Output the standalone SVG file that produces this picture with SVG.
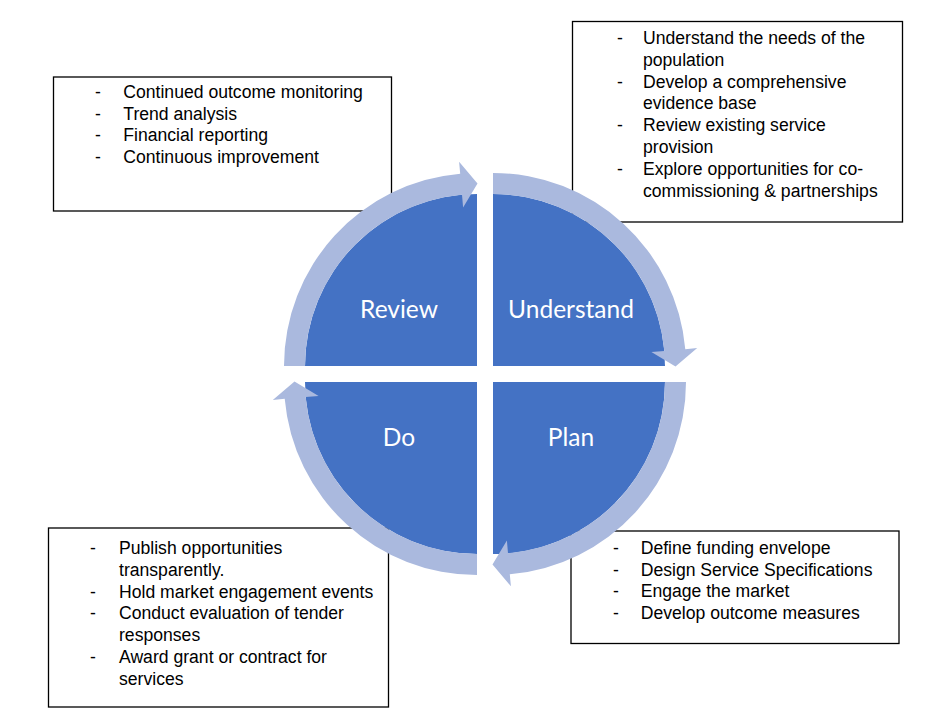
<svg xmlns="http://www.w3.org/2000/svg" xmlns:xlink="http://www.w3.org/1999/xlink" width="927" height="725" viewBox="0 0 927 725">
<style>
.box{fill:#ffffff;stroke:#000000;stroke-width:1.3}
.bt{font-family:"Liberation Sans",Arial,sans-serif;font-size:17.6px;fill:#000000}
.quad{fill:#4472C4}
.ring{fill:#AAB9DE}
.ql{font-family:Lato,"Open Sans",sans-serif;font-size:24.5px;fill:#ffffff;text-anchor:middle}
</style>
<defs>
<path id="quadShape" d="M 477 366 L 305 366 A 172 172 0 0 1 477 194 Z"/>
<path id="ringShape" d="M 284 366 A 193 193 0 0 1 460.2 173.7 L 459.1 161.8 L 477.5 183.5 L 463.1 207.6 L 462 194.7 A 172 172 0 0 0 305 366 Z"/>
</defs>
<rect width="927" height="725" fill="#ffffff"/>

<g id="box-review">
<rect class="box" x="53.5" y="77" width="338" height="134"/>
<g class="bt">
<text x="95" y="98">-</text><text x="123.3" y="98">Continued outcome monitoring</text>
<text x="95" y="119.7">-</text><text x="123.3" y="119.7">Trend analysis</text>
<text x="95" y="141.4">-</text><text x="123.3" y="141.4">Financial reporting</text>
<text x="95" y="163.1">-</text><text x="123.3" y="163.1">Continuous improvement</text>
</g>
</g>

<g id="box-understand">
<rect class="box" x="572.5" y="21.5" width="330" height="200.5"/>
<g class="bt">
<text x="617" y="44">-</text><text x="643" y="44">Understand the needs of the</text>
<text x="643" y="65.8">population</text>
<text x="617" y="87.6">-</text><text x="643" y="87.6">Develop a comprehensive</text>
<text x="643" y="109.4">evidence base</text>
<text x="617" y="131.2">-</text><text x="643" y="131.2">Review existing service</text>
<text x="643" y="153">provision</text>
<text x="617" y="174.8">-</text><text x="643" y="174.8">Explore opportunities for co-</text>
<text x="643" y="196.6">commissioning &amp; partnerships</text>
</g>
</g>

<g id="box-plan">
<rect class="box" x="571" y="531" width="328" height="112.5"/>
<g class="bt">
<text x="613" y="553.8">-</text><text x="640.7" y="553.8">Define funding envelope</text>
<text x="613" y="575.6">-</text><text x="640.7" y="575.6">Design Service Specifications</text>
<text x="613" y="597.4">-</text><text x="640.7" y="597.4">Engage the market</text>
<text x="613" y="619.2">-</text><text x="640.7" y="619.2">Develop outcome measures</text>
</g>
</g>

<g id="box-do">
<rect class="box" x="48.5" y="528" width="340" height="179"/>
<g class="bt">
<text x="90" y="554">-</text><text x="119" y="554">Publish opportunities</text>
<text x="119" y="575.8">transparently.</text>
<text x="90" y="597.6">-</text><text x="119" y="597.6">Hold market engagement events</text>
<text x="90" y="619.4">-</text><text x="119" y="619.4">Conduct evaluation of tender</text>
<text x="119" y="641.2">responses</text>
<text x="90" y="663">-</text><text x="119" y="663">Award grant or contract for</text>
<text x="119" y="684.8">services</text>
</g>
</g>

<g id="node-review">
<use xlink:href="#quadShape" href="#quadShape" class="quad"/>
<text class="ql" x="399" y="318">Review</text>
</g>
<g id="node-understand">
<use xlink:href="#quadShape" href="#quadShape" class="quad" transform="rotate(90 485 374)"/>
<text class="ql" x="571" y="318">Understand</text>
</g>
<g id="node-plan">
<use xlink:href="#quadShape" href="#quadShape" class="quad" transform="rotate(180 485 374)"/>
<text class="ql" x="571" y="446">Plan</text>
</g>
<g id="node-do">
<use xlink:href="#quadShape" href="#quadShape" class="quad" transform="rotate(270 485 374)"/>
<text class="ql" x="399" y="446">Do</text>
</g>

<g id="connectors">
<use xlink:href="#ringShape" href="#ringShape" class="ring"/>
<use xlink:href="#ringShape" href="#ringShape" class="ring" transform="rotate(90 485 374)"/>
<use xlink:href="#ringShape" href="#ringShape" class="ring" transform="rotate(180 485 374)"/>
<use xlink:href="#ringShape" href="#ringShape" class="ring" transform="rotate(270 485 374)"/>
</g>
</svg>
